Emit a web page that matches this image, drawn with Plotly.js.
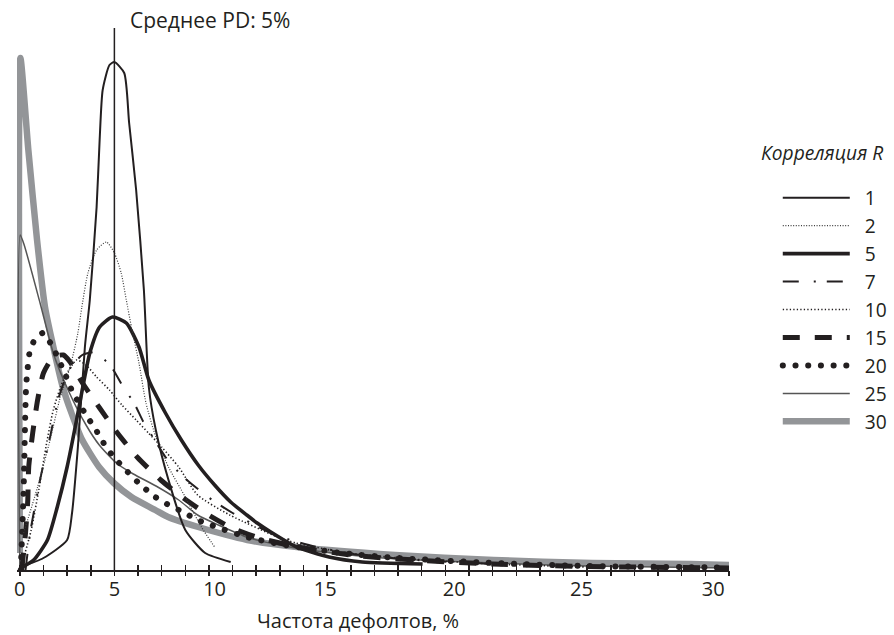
<!DOCTYPE html>
<html><head><meta charset="utf-8">
<script src="https://cdn.plot.ly/plotly-3.0.1.min.js"></script>
<style>html,body{margin:0;padding:0;background:#fff}#chart{width:894px;height:635px}</style>
</head><body><div id="chart"></div>
<script>
// ---- data (x: default rate, %; y: relative density) ----
const correlations = ['1','2','5','7','10','15','20','25','30'];
const meanPD = 5;
const xTickVals = [0, 5, 10.3, 16.15, 22.97, 29.7, 36.67];
const xTickText = ['0','5','10','15','20','25','30'];

const x_r1 = [0.05,1.25,2.5,2.76,3.07,3.44,3.7,4.06,4.22,4.38,4.74,5.0,5.52,5.78,6.15,6.56,6.82,7.19,7.86,8.75,9.8,11.15];
const y_r1 = [0.3,1.2,3.0,5.7,12.3,22.3,27.0,36.3,43.0,48.0,50.5,50.8,49.7,44.7,38.0,28.0,18.3,14.0,9.0,4.0,1.7,0.8];

const x_r2 = [0.2,0.94,1.6,2.14,2.66,3.07,3.28,3.6,4.06,4.58,5.0,5.36,5.63,5.9,6.3,6.67,7.19,7.86,8.75,9.6,10.3];
const y_r2 = [3.7,8.3,13.0,17.3,20.3,23.7,26.3,29.7,32.0,32.8,31.7,29.7,27.0,24.3,20.7,16.7,13.3,10.3,7.3,4.3,2.3];

const x_r5 = [0.05,0.73,1.46,1.98,2.5,3.0,3.33,3.7,4.22,4.9,5.63,6.3,6.82,7.7,8.54,9.43,10.3,11.15,12.0,12.55,13.96,14.64,16.35,18.1,21.3];
const y_r5 = [0.2,1.0,3.0,6.3,10.3,15.0,18.3,21.7,24.3,25.3,24.7,22.3,19.0,15.7,13.0,10.5,8.5,6.8,5.5,4.7,3.0,2.3,1.3,0.8,0.6];

const x_r7 = [0.3,0.57,1.1,1.6,2.03,2.6,3.3,4.0,4.22,4.84,5.5,6.04,6.56,7.03,7.7,8.54,9.95,11.25,13.5,15.7,18,21,25];
const y_r7 = [0,4.0,9.3,13.3,17.1,20.0,21.5,21.8,21.5,20.3,18.2,16.7,14.7,13.3,11.3,9.5,7.3,5.7,3.5,2.3,1.5,1.0,0.6];

const x_r10 = [0.1,0.6,1.0,1.4,1.77,2.3,3.0,3.5,4.06,4.74,5.4,6.15,6.8,7.5,8.4,9.4,11.1,13.75,14.6,17,20,25,30];
const y_r10 = [0.5,4.0,8.0,12.5,16.0,19.0,21.0,20.5,19.3,18.0,16.5,15.0,13.7,12.3,10.3,7.5,5.5,3.2,2.7,1.8,1.2,0.6,0.3];

const x_r15 = [0.1,0.3,0.42,0.47,0.68,0.94,1.25,1.77,2.3,2.66,3.28,4.22,5.16,6.2,7.45,8.65,9.8,11.1,12.5,13.75,15,17.5,20,25,30,37.5];
const y_r15 = [0,3.7,7.0,10.3,13.7,17.0,19.7,21.3,21.5,20.8,18.8,16.2,13.7,11.3,9.0,7.2,5.7,4.3,3.3,2.7,2.2,1.5,1.1,0.6,0.35,0.2];

const x_r20 = [0.05,0.2,0.28,0.3,0.33,0.38,0.52,0.78,1.22,1.74,2.37,2.79,3.57,3.93,4.56,4.97,5.4,5.86,6.28,7.16,7.68,8.72,9.4,10.1,12,14,17,20,25,30,37.5];
const y_r20 = [0,8.0,15.0,16.5,18.3,19.5,21.8,23.0,23.7,22.3,19.7,17.8,15.3,14.3,12.3,11.3,10.4,9.5,8.7,7.3,6.7,5.7,5.0,4.5,3.3,2.5,1.7,1.2,0.7,0.4,0.25];

const x_r25 = [0,0.02,0.23,1.07,1.8,2.6,3.5,4.2,5.1,6.0,7.2,8.4,9.4,10.5,12,14,17,20,25,30,37.5];
const y_r25 = [0.5,33.5,32.5,26.7,21.5,17.8,14.5,12.5,10.7,9.6,8.4,7.0,5.5,4.5,3.3,2.4,1.6,1.1,0.7,0.4,0.2];

const x_r30 = [0,0.03,0.45,0.91,1.33,1.69,2.27,2.73,3.3,4.19,4.97,5.9,7.16,7.84,9.43,12.03,14.64,19.84,25.05,30.26,35.47,37.5];
const y_r30 = [1.7,51.2,42.0,33.0,26.3,23.0,18.3,15.7,13.0,10.3,8.7,7.3,6.0,5.3,4.3,3.0,2.3,1.5,1.0,0.7,0.6,0.5];

// ---- styles ----
const ink = '#231f20';
const seriesX = {'1':x_r1,'2':x_r2,'5':x_r5,'7':x_r7,'10':x_r10,'15':x_r15,'20':x_r20,'25':x_r25,'30':x_r30};
const seriesY = {'1':y_r1,'2':y_r2,'5':y_r5,'7':y_r7,'10':y_r10,'15':y_r15,'20':y_r20,'25':y_r25,'30':y_r30};
const styles = {
  '1':  {color: ink, width: 2, dash: 'solid'},
  '2':  {color: '#3a3a3a', width: 1.2, dash: '1px,1.6px'},
  '5':  {color: ink, width: 3.6, dash: 'solid'},
  '7':  {color: ink, width: 2, dash: '16px,15px,2px,11px'},
  '10': {color: ink, width: 1.6, dash: '1.3px,2.2px'},
  '15': {color: ink, width: 5, dash: '17px,15px'},
  '20': {color: ink, width: 6, dash: '0.1px,12.6px'},
  '25': {color: '#555555', width: 1.5, dash: 'solid'},
  '30': {color: '#939598', width: 6.5, dash: 'solid'}
};
const drawOrder = ['30','25','20','15','10','7','5','2','1'];
// overlay x axes carry the crossing tick marks (same range as the main axis)
const axisOf = {'2': 'x2', '1': 'x3'};

const traces = drawOrder.map(r => ({
  type: 'scatter', mode: 'lines', name: r,
  x: seriesX[r], y: seriesY[r],
  xaxis: axisOf[r] || 'x', yaxis: 'y',
  legendrank: correlations.indexOf(r) + 1,
  line: {color: styles[r].color, width: styles[r].width, dash: styles[r].dash, shape: 'spline', smoothing: 0.6},
  hoverinfo: 'skip'
}));

const xr = [-0.15, 37.5];
const tickAxis = (side) => ({
  overlaying: 'x', anchor: 'y', side: 'bottom', range: xr, autorange: false,
  tickmode: 'linear', tick0: 0, dtick: 1.25, ticks: side, ticklen: 5, tickwidth: 1.5,
  tickcolor: ink, showticklabels: false, showline: false, showgrid: false, zeroline: false
});

const layout = {
  width: 894, height: 635,
  margin: {l: 17, r: 154, t: 28, b: 65, pad: 0},
  paper_bgcolor: '#ffffff', plot_bgcolor: '#ffffff',
  font: {family: '"Open Sans", "Noto Sans", sans-serif', size: 20, color: ink},
  showlegend: true,
  xaxis: {
    range: xr, autorange: false, tickmode: 'array', tickvals: xTickVals, ticktext: xTickText,
    ticks: '', showline: true, linecolor: ink, linewidth: 2,
    showgrid: false, zeroline: false, tickfont: {size: 20, color: ink}
  },
  xaxis2: tickAxis('outside'),
  xaxis3: tickAxis('inside'),
  yaxis: {range: [0, 54.2], autorange: false, visible: false},
  legend: {
    x: 1.0685, xanchor: 'left', y: 0.722, yanchor: 'top',
    font: {size: 19.2, color: ink}, itemwidth: 67,
    bgcolor: 'rgba(0,0,0,0)', traceorder: 'normal', tracegroupgap: 0
  },
  shapes: [{
    type: 'line', xref: 'x', yref: 'paper', x0: meanPD, x1: meanPD, y0: 0, y1: 1,
    line: {color: ink, width: 1.5}
  }],
  annotations: [
    {text: 'Среднее PD: ' + meanPD + '%', xref: 'x', x: meanPD, xanchor: 'left', xshift: 14,
     yref: 'paper', y: 1.0148, yanchor: 'middle', showarrow: false, font: {size: 21, color: ink}},
    {text: 'Частота дефолтов, %', xref: 'paper', x: 0.4786, xanchor: 'center',
     yref: 'paper', y: -0.094, yanchor: 'middle', showarrow: false, font: {size: 20, color: ink}},
    {text: '<i>Корреляция R</i>', xref: 'paper', x: 1.042, xanchor: 'left',
     yref: 'paper', y: 0.771, yanchor: 'middle', showarrow: false, font: {size: 19.2, color: ink}}
  ]
};

Plotly.newPlot('chart', traces, layout, {displayModeBar: false, staticPlot: true}).then(gd => {
  // let the legend labels sit a little further from their sample lines, as in the reference
  gd.querySelectorAll('.legend .scrollbox, .legend').forEach(el => el.removeAttribute('clip-path'));
  gd.querySelectorAll('.scatterlayer .trace').forEach(tr => {
    const d = tr.__data__ && tr.__data__[0] && tr.__data__[0].trace;
    if (d && d.name === '20') tr.querySelectorAll('path.js-line').forEach(p => p.style.strokeLinecap = 'round');
  });
  gd.querySelectorAll('.legend .traces').forEach(g => {
    const t = g.querySelector('.legendtext');
    if (t) {
      t.setAttribute('x', (parseFloat(t.getAttribute('x')) || 0) + 10);
      if (t.textContent === '20') g.querySelectorAll('.legendlines path').forEach(p => p.style.strokeLinecap = 'round');
    }
  });
});
</script>
</body></html>
